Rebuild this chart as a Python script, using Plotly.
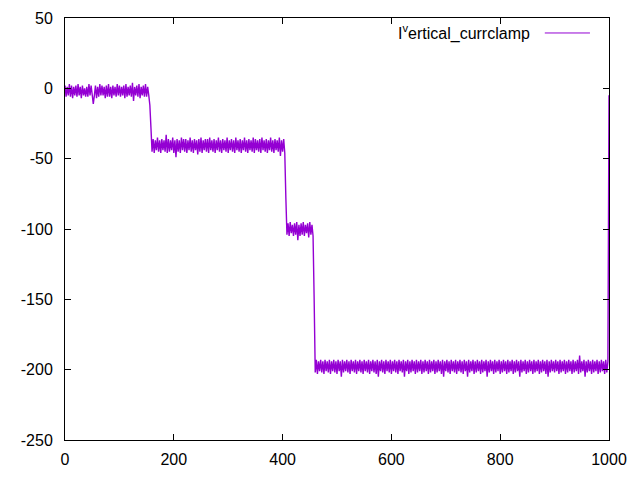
import plotly.graph_objects as go

# sample times (step 2)
time = list(range(0, 1001, 2))

seg_rest = [2,-6,1,-5,3,-6,2,-7,1,-5,
            2,-6,3,-5,1,-7,2,-5,0,-6,
            1,-6,3,-5,2,-6,-11,-5,2,-7,
            1,-6,3,-5,2,-5,1,-7,2,-6,
            3,-6,1,-7,2,-5,1,-6,3,-5,
            2,-6,1,-5,2,-7,3,-6,1,-5,
            2,-6,4,-9,1,-5,2,-6,3,-7,
            1,-5,2,-6,3,-6,1,-5]
step1 = [-12, -28]
seg_40 = [-45,-36,-46,-37,-44,-35,-45,-37,-46,-36,
          -44,-37,-45,-33,-46,-36,-45,-37,-44,-35,
          -46,-37,-49,-36,-45,-37,-46,-35,-44,-36,
          -45,-36,-46,-37,-44,-35,-45,-37,-46,-36,
          -44,-37,-47,-36,-45,-35,-46,-37,-44,-36,
          -45,-36,-46,-35,-44,-37,-45,-36,-46,-37,
          -44,-35,-45,-37,-46,-36,-44,-37,-45,-35,
          -46,-37,-44,-36,-45,-37,-46,-35,-44,-37,
          -45,-36,-46,-37,-44,-35,-45,-37,-46,-36,
          -44,-37,-45,-35,-46,-36,-44,-37,-45,-36,
          -46,-35,-44,-37,-45,-36,-46,-37,-44,-35,
          -45,-37,-46,-36,-44,-37,-45,-35,-48,-37,
          -45,-36]
step2 = [-46, -78]
seg_100 = [-104,-96,-105,-95,-103,-97,-105,-96,-104,-95,
           -108,-97,-105,-96,-104,-95,-105,-97,-103,-96,
           -106,-95,-104,-97,-105]
step3 = [-150]
seg_197 = [-202,-193,-203,-194,-201,-193,-202,-194,-203,-193,
           -201,-194,-202,-193,-203,-194,-201,-193,-202,-194,
           -203,-193,-201,-194,-205,-193,-202,-194,-201,-193,
           -202,-194,-203,-193,-201,-194,-202,-193,-203,-194,
           -201,-193,-202,-194,-203,-193,-201,-194,-202,-193,
           -203,-194,-201,-193,-202,-194,-203,-193,-205,-194,
           -201,-193,-202,-194,-203,-193,-201,-194,-202,-193,
           -203,-194,-201,-193,-202,-194,-203,-193,-201,-194,
           -202,-193,-205,-194,-201,-193,-203,-194,-202,-193,
           -201,-194,-203,-193,-202,-194,-201,-193,-203,-194,
           -202,-193,-201,-194,-203,-193,-202,-194,-201,-193,
           -203,-194,-202,-193,-201,-194,-203,-193,-205,-194,
           -201,-193,-202,-194,-203,-193,-201,-194,-202,-193,
           -203,-194,-201,-193,-202,-194,-203,-193,-201,-194,
           -205,-193,-202,-194,-201,-193,-203,-194,-202,-193,
           -201,-194,-203,-193,-202,-194,-201,-193,-205,-194,
           -202,-193,-201,-194,-203,-193,-202,-194,-201,-193,
           -203,-194,-202,-193,-201,-194,-203,-193,-202,-194,
           -201,-193,-203,-194,-202,-193,-201,-194,-205,-193,
           -202,-194,-201,-193,-203,-194,-202,-193,-201,-194,
           -203,-193,-202,-194,-201,-193,-203,-194,-202,-193,
           -201,-194,-203,-193,-205,-194,-202,-193,-201,-194,
           -202,-193,-201,-194,-203,-193,-202,-194,-201,-193,
           -203,-194,-202,-193,-201,-194,-203,-193,-202,-194,
           -201,-193,-203,-190,-202,-194,-201,-193,-205,-194,
           -202,-193,-201,-194,-203,-193,-202,-194,-201,-193,
           -203,-194,-202,-193,-201,-194,-203,-193,-202,-194]
final = [-5]

current = seg_rest + step1 + seg_40 + step2 + seg_100 + step3 + seg_197 + final

x_ticks = [0, 200, 400, 600, 800, 1000]
x_labels = ["0", "200", "400", "600", "800", "1000"]
y_ticks = [-250, -200, -150, -100, -50, 0, 50]
y_labels = ["-250", "-200", "-150", "-100", "-50", "0", "50"]
legend_label = "I<sup>v</sup>ertical_currclamp"
color = "#9400d3"
font = "Liberation Sans, Arial, sans-serif"

fig = go.Figure()
fig.add_trace(go.Scatter(x=time, y=current, mode="lines",
                         line=dict(color=color, width=1.4), showlegend=False,
                         hoverinfo="skip"))

axis_common = dict(showgrid=False, zeroline=False, showline=True, mirror="allticks",
                   linecolor="black", linewidth=1, ticks="inside", ticklen=6,
                   tickcolor="black", tickwidth=1, automargin=False,
                   tickfont=dict(family=font, size=16, color="black"))

fig.update_xaxes(range=[0, 1000], tickvals=x_ticks, ticktext=x_labels,
                 ticklabelstandoff=5, **axis_common)
fig.update_yaxes(range=[-250, 50], tickvals=y_ticks, ticktext=y_labels,
                 ticklabelstandoff=8, **axis_common)

# gnuplot-style key: text then line sample
fig.add_annotation(xref="paper", yref="paper", x=0.858, y=0.9645, xanchor="right",
                   yanchor="middle", text=legend_label, showarrow=False,
                   font=dict(family=font, size=16, color="black"))
fig.add_shape(type="line", xref="paper", yref="paper", x0=0.882, x1=0.965,
              y0=0.9645, y1=0.9645, line=dict(color=color, width=1))

# page body adds an 8px offset, so the figure is sized to fit the window
fig.update_layout(width=632, height=472, paper_bgcolor="white", plot_bgcolor="white",
                  margin=dict(l=57, r=31, t=10, b=40, autoexpand=False))

fig.write_html("out.html")
